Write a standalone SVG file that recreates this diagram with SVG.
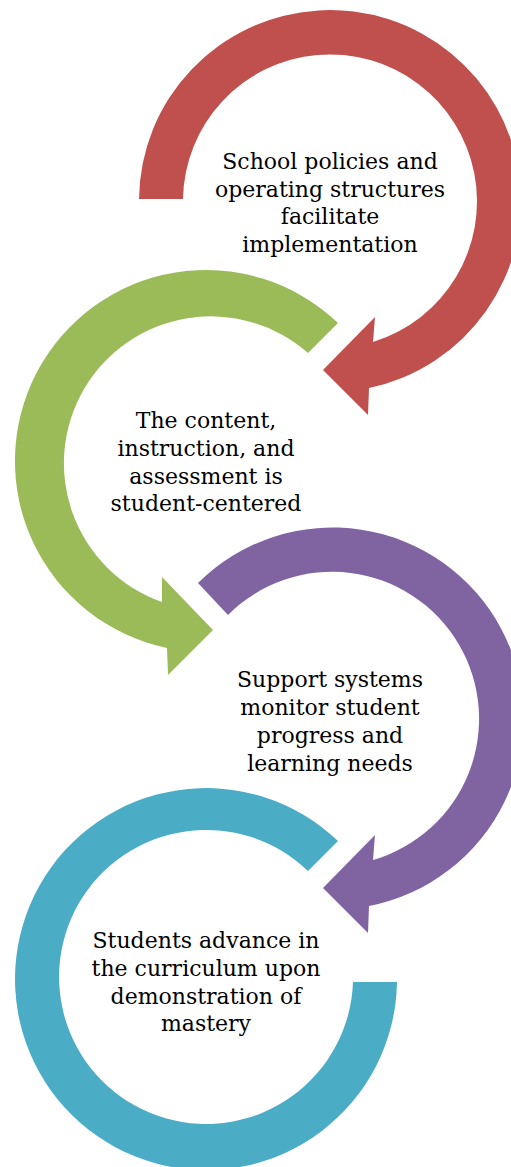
<svg xmlns="http://www.w3.org/2000/svg" width="511" height="1167" viewBox="0 0 511 1167">
  <style>
    .label { font-family: "DejaVu Serif", "Liberation Serif", serif; font-size: 22px; fill: #000000; text-anchor: middle; }
    .red { fill: #C0504D; }
    .green { fill: #9BBB59; }
    .purple { fill: #8064A2; }
    .teal { fill: #4BACC6; }
  </style>
  <rect width="511" height="1167" fill="#FFFFFF"/>

  <!-- Circular arrows: each one curves around its own label and points at the next -->
  <g id="connectors">
    <path id="arrow-1" class="red" d="M 139,199 A 191 191 0 1 1 369,388 L 368,415 L 323,370 L 375,317 L 373,342 A 147 147 0 1 0 183,199 Z"/>
    <path id="arrow-2" class="green" d="M 338,323 A 191 191 0 1 0 167,648 L 168,675 L 213,630 L 162,577 L 162,602 A 147 147 0 1 1 308,353 Z"/>
    <path id="arrow-3" class="purple" d="M 198,583 A 191 191 0 1 1 369,906 L 368,933 L 323,888 L 375,835 L 373,860 A 147 147 0 1 0 228,615 Z"/>
    <path id="arrow-4" class="teal" d="M 338,841 A 191 191 0 1 0 397,982 L 353,982 A 147 147 0 1 1 308,871 Z"/>
  </g>

  <g id="node-1">
    <text class="label" x="330" y="169">School policies and</text>
    <text class="label" x="330" y="197">operating structures</text>
    <text class="label" x="330" y="224">facilitate</text>
    <text class="label" x="330" y="252">implementation</text>
  </g>

  <g id="node-2">
    <text class="label" x="206" y="428">The content,</text>
    <text class="label" x="206" y="456">instruction, and</text>
    <text class="label" x="206" y="484">assessment is</text>
    <text class="label" x="206" y="511">student-centered</text>
  </g>

  <g id="node-3">
    <text class="label" x="330" y="687">Support systems</text>
    <text class="label" x="330" y="715">monitor student</text>
    <text class="label" x="330" y="743">progress and</text>
    <text class="label" x="330" y="771">learning needs</text>
  </g>

  <g id="node-4">
    <text class="label" x="206" y="948">Students advance in</text>
    <text class="label" x="206" y="976">the curriculum upon</text>
    <text class="label" x="206" y="1004">demonstration of</text>
    <text class="label" x="206" y="1031">mastery</text>
  </g>
</svg>
